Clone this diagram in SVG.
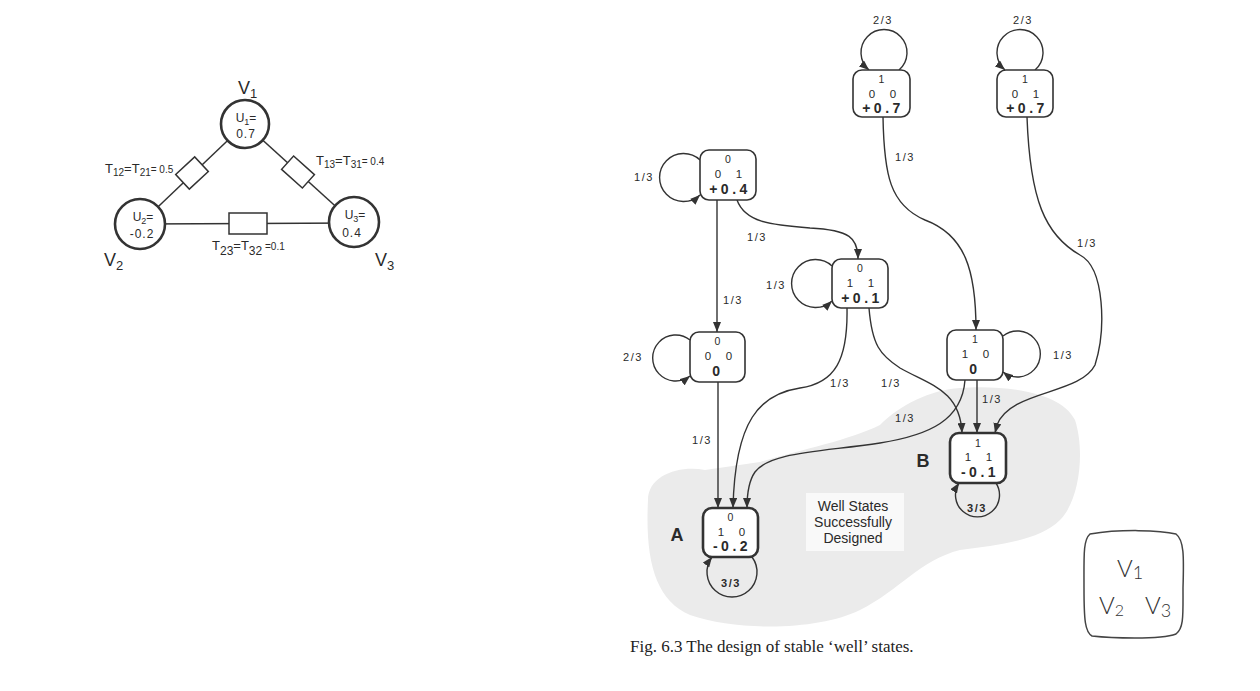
<svg xmlns="http://www.w3.org/2000/svg" width="1260" height="691" viewBox="0 0 1260 691">
<defs>
<style>
text{font-family:"Liberation Sans",Arial,sans-serif;fill:#2a2a2a}
.nd rect{fill:#fff;stroke:#333;stroke-width:1.6}
.nd.w rect{stroke-width:2.6}
.d{font-size:10.5px;text-anchor:middle}
.m{font-size:11.5px;text-anchor:middle}
.v{font-size:14px;font-weight:bold;text-anchor:middle;letter-spacing:3.5px}
.lb{font-size:11px;letter-spacing:1.5px;text-anchor:middle}
.e{fill:none;stroke:#333;stroke-width:1.4;marker-end:url(#ar)}
.cv circle{fill:#fff;stroke:#333;stroke-width:2.6}
.ct{font-size:12px;text-anchor:middle}
.wire{fill:none;stroke:#333;stroke-width:1.5}
.res{fill:#fff;stroke:#333;stroke-width:1.5}
.tl{font-size:13px}
.vl{font-size:18px}
.big{font-size:18px;font-weight:bold;text-anchor:middle}
.hand{font-family:Lato,"Liberation Sans",sans-serif;font-weight:300;font-size:24px;fill:#333}
.cap{font-family:"Liberation Serif","Times New Roman",serif;font-size:17px;fill:#222}
</style>
<marker id="ar" markerWidth="10" markerHeight="8" refX="10" refY="4" orient="auto" markerUnits="userSpaceOnUse" viewBox="0 0 10 8"><path d="M0,0 L10,4 L0,8 z" fill="#333"/></marker>
</defs>
<rect width="1260" height="691" fill="#fff"/>

<!-- left network -->
<g id="network-connectors">
<line class="wire" x1="245" y1="124" x2="140" y2="224"/>
<line class="wire" x1="245" y1="124" x2="354" y2="223"/>
<line class="wire" x1="140" y1="224" x2="354" y2="223"/>
<rect class="res" x="-13" y="-10" width="26" height="20" transform="translate(192,173) rotate(-43)"/>
<rect class="res" x="-14" y="-9" width="28" height="18" transform="translate(298,172) rotate(42)"/>
<rect class="res" x="229" y="213" width="38" height="21"/>
<text class="tl" x="105" y="173">T<tspan dy="3" font-size="10">12</tspan><tspan dy="-3">=T</tspan><tspan dy="3" font-size="10">21</tspan><tspan dy="-3" font-size="10">= 0.5</tspan></text>
<text class="tl" x="316" y="165">T<tspan dy="3" font-size="10">13</tspan><tspan dy="-3">=T</tspan><tspan dy="3" font-size="10">31</tspan><tspan dy="-3" font-size="10">= 0.4</tspan></text>
<text class="tl" x="212" y="250">T<tspan dy="5" font-size="12">23</tspan><tspan dy="-5">=T</tspan><tspan dy="5" font-size="12">32</tspan><tspan dy="-5" font-size="10"> =0.1</tspan></text>
</g>
<g id="V1" class="cv">
<circle cx="245" cy="124" r="24"/>
<text class="ct" x="246" y="122">U<tspan dy="3" font-size="9">1</tspan><tspan dy="-3">=</tspan></text>
<text class="ct" x="246" y="138" letter-spacing="1">0.7</text>
<text class="vl" x="238" y="94">V<tspan dy="4" font-size="13">1</tspan></text>
</g>
<g id="V2" class="cv">
<circle cx="140" cy="224" r="25"/>
<text class="ct" x="143" y="221">U<tspan dy="3" font-size="9">2</tspan><tspan dy="-3">=</tspan></text>
<text class="ct" x="142" y="238" letter-spacing="1">-0.2</text>
<text class="vl" x="104" y="266">V<tspan dy="4" font-size="13">2</tspan></text>
</g>
<g id="V3" class="cv">
<circle cx="354" cy="222" r="25"/>
<text class="ct" x="355" y="219">U<tspan dy="3" font-size="9">3</tspan><tspan dy="-3">=</tspan></text>
<text class="ct" x="352" y="237" letter-spacing="1">0.4</text>
<text class="vl" x="375" y="266">V<tspan dy="4" font-size="13">3</tspan></text>
</g>

<!-- shaded well region -->
<g id="well-region">
<path d="M 648 500 C 648 475, 680 465, 705 470 L 760 462 C 800 450, 850 440, 880 425 C 900 405, 930 390, 960 388 C 1000 385, 1060 390, 1075 420 C 1085 450, 1080 500, 1060 520 C 1040 540, 1000 545, 960 550 C 920 560, 900 590, 860 610 C 820 630, 740 632, 690 615 C 655 600, 645 560, 648 500 Z" fill="#ebebeb"/>
<rect x="806" y="493" width="98" height="58" fill="#f9f9f9"/>
<text x="853" y="511" font-size="14" text-anchor="middle" fill="#333">Well States</text>
<text x="853" y="527" font-size="14" text-anchor="middle" fill="#333">Successfully</text>
<text x="853" y="543" font-size="14" text-anchor="middle" fill="#333">Designed</text>
<text class="big" x="677" y="541">A</text>
<text class="big" x="923" y="467" font-size="20">B</text>
</g>

<!-- connectors -->
<g id="connectors">
<path class="e" d="M 899 70 A 23 23 0 1 0 869 70"/>
<path class="e" d="M 1035 70 A 23 23 0 1 0 1005 70"/>
<path class="e" d="M 700 160 A 24 24 0 1 0 700 195"/>
<path class="e" d="M 832 266 A 24 24 0 1 0 832 301"/>
<path class="e" d="M 690 340 A 23 23 0 1 0 690 376"/>
<path class="e" d="M 1003 336 A 23 23 0 1 1 1003 372"/>
<path class="e" d="M 996 483 A 22 22 0 1 1 959 483"/>
<path class="e" d="M 752 557 A 25 25 0 1 1 712 557"/>

<path class="e" d="M 883 117 C 884 175, 890 205, 925 220 C 965 235, 976 270, 976 330"/>
<path class="e" d="M 1027 117 C 1030 200, 1045 235, 1080 255 C 1105 268, 1106 330, 1095 365 C 1080 395, 1010 390, 997 425 L 995 433"/>
<path class="e" d="M 717 200 L 717 332"/>
<path class="e" d="M 737 200 C 745 222, 770 225, 810 228 C 850 230, 858 238, 858 259"/>
<path class="e" d="M 718 382 L 718 508"/>
<path class="e" d="M 847 308 C 848 360, 835 383, 800 388 C 760 394, 735 420, 733 508"/>
<path class="e" d="M 869 308 C 872 345, 880 355, 900 368 C 930 385, 960 390, 962 433"/>
<path class="e" d="M 977 380 L 977 433"/>
<path class="e" d="M 965 380 C 962 420, 930 435, 880 443 C 820 452, 770 452, 755 472 C 748 482, 747 495, 747 508"/>

<text class="lb" x="883" y="24">2/3</text>
<text class="lb" x="1023" y="24">2/3</text>
<text class="lb" x="644" y="181">1/3</text>
<text class="lb" x="757" y="241">1/3</text>
<text class="lb" x="733" y="304">1/3</text>
<text class="lb" x="776" y="289">1/3</text>
<text class="lb" x="633" y="361">2/3</text>
<text class="lb" x="840" y="387">1/3</text>
<text class="lb" x="891" y="387">1/3</text>
<text class="lb" x="1063" y="359">1/3</text>
<text class="lb" x="992" y="403">1/3</text>
<text class="lb" x="905" y="422">1/3</text>
<text class="lb" x="702" y="444">1/3</text>
<text class="lb" x="905" y="161">1/3</text>
<text class="lb" x="1087" y="247">1/3</text>
<text class="lb" x="731" y="587" font-weight="bold">3/3</text>
<text class="lb" x="977" y="512" font-weight="bold">3/3</text>
</g>

<!-- state nodes -->
<g id="s100" class="nd" transform="translate(853,70)">
<rect width="57" height="47" rx="9"/>
<text class="d" x="28.5" y="13">1</text>
<text class="m" x="19" y="28">0</text><text class="m" x="40" y="28">0</text>
<text class="v" x="30" y="43">+0.7</text>
</g>
<g id="s101" class="nd" transform="translate(997,70)">
<rect width="56" height="47" rx="9"/>
<text class="d" x="28" y="13">1</text>
<text class="m" x="18" y="28">0</text><text class="m" x="39" y="28">1</text>
<text class="v" x="30" y="43">+0.7</text>
</g>
<g id="s001" class="nd" transform="translate(700,150)">
<rect width="56" height="50" rx="9"/>
<text class="d" x="28" y="13">0</text>
<text class="m" x="18" y="28">0</text><text class="m" x="39" y="28">1</text>
<text class="v" x="30" y="44">+0.4</text>
</g>
<g id="s011" class="nd" transform="translate(832,259)">
<rect width="56" height="49" rx="9"/>
<text class="d" x="28" y="13">0</text>
<text class="m" x="18" y="28">1</text><text class="m" x="39" y="28">1</text>
<text class="v" x="30" y="44">+0.1</text>
</g>
<g id="s000" class="nd" transform="translate(690,332)">
<rect width="55" height="50" rx="9"/>
<text class="d" x="27.5" y="13">0</text>
<text class="m" x="18" y="28">0</text><text class="m" x="39" y="28">0</text>
<text class="v" x="28" y="44" letter-spacing="0">0</text>
</g>
<g id="s110" class="nd" transform="translate(947,330)">
<rect width="56" height="50" rx="9"/>
<text class="d" x="28" y="13">1</text>
<text class="m" x="18" y="28">1</text><text class="m" x="39" y="28">0</text>
<text class="v" x="28" y="44" letter-spacing="0">0</text>
</g>
<g id="B" class="nd w" transform="translate(950,433)">
<rect width="56" height="50" rx="9"/>
<text class="d" x="28" y="14">1</text>
<text class="m" x="18" y="28">1</text><text class="m" x="39" y="28">1</text>
<text class="v" x="30" y="44">-0.1</text>
</g>
<g id="A" class="nd w" transform="translate(703,508)">
<rect width="55" height="49" rx="9"/>
<text class="d" x="27.5" y="13">0</text>
<text class="m" x="18" y="28">1</text><text class="m" x="39" y="28">0</text>
<text class="v" x="29" y="43">-0.2</text>
</g>

<!-- handwritten key -->
<g id="key">
<path d="M 1090 534 C 1120 529, 1160 530, 1176 534 C 1184 540, 1184 556, 1183 588 C 1183 615, 1184 628, 1176 634 C 1160 640, 1110 638, 1092 636 C 1085 632, 1084 620, 1084 588 C 1084 556, 1083 540, 1090 534 Z" fill="none" stroke="#444" stroke-width="1.5"/>
<text class="hand" x="1117" y="577">V<tspan dy="2" font-size="18">1</tspan></text>
<text class="hand" x="1099" y="614">V<tspan dy="2" font-size="16">2</tspan></text>
<text class="hand" x="1145" y="614">V<tspan dy="3" font-size="18">3</tspan></text>
</g>

<text class="cap" x="630" y="652">Fig. 6.3 The design of stable ‘well’ states.</text>
</svg>
